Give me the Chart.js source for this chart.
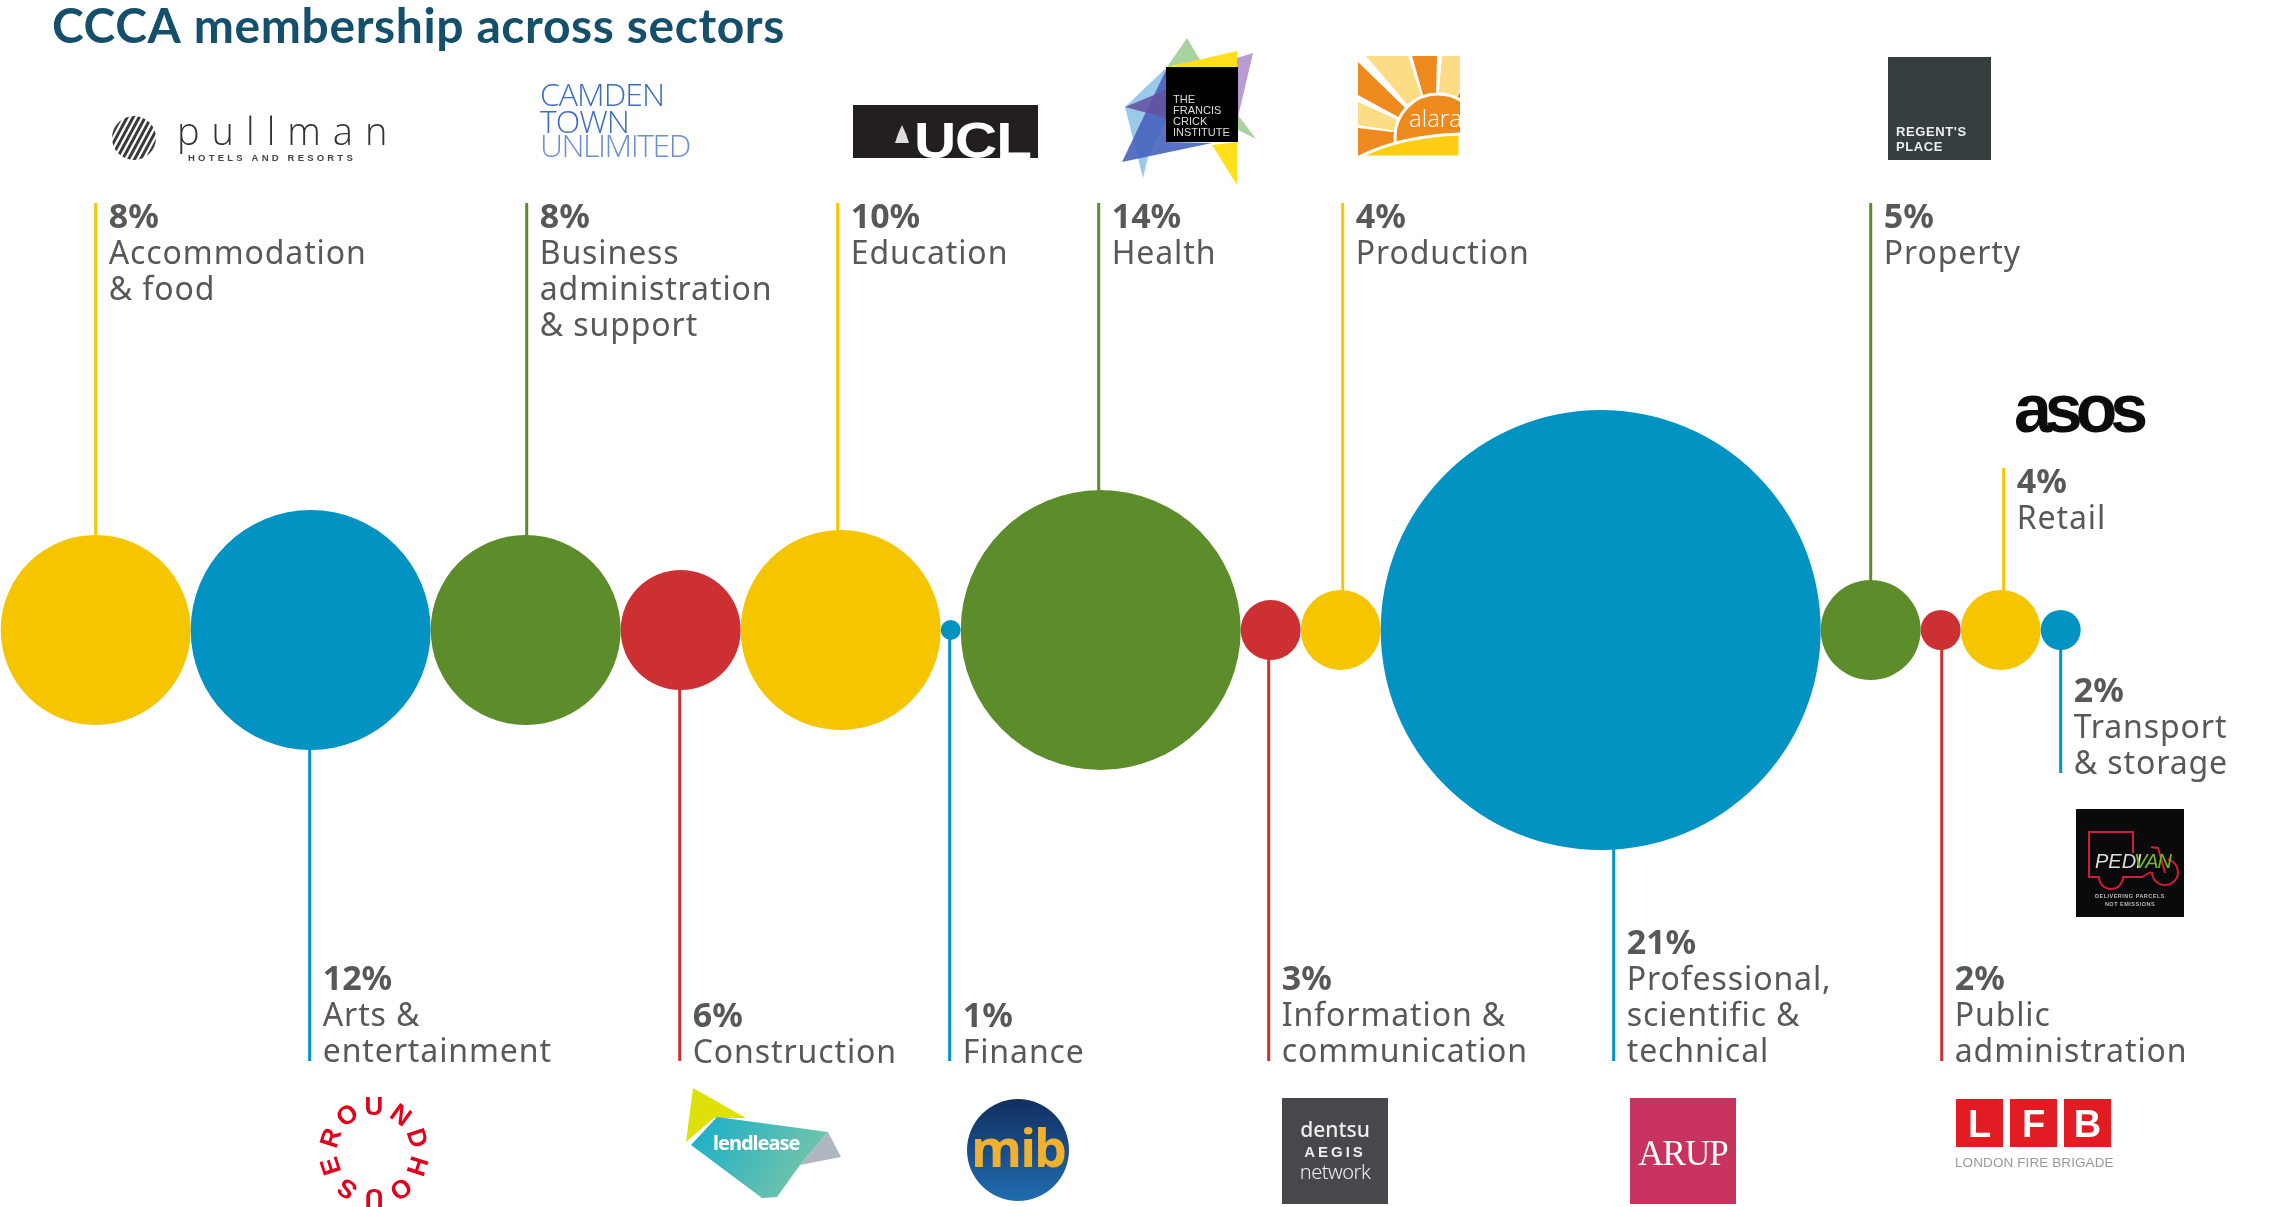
<!DOCTYPE html>
<html>
<head>
<meta charset="utf-8">
<title>CCCA membership across sectors</title>
<script src="https://cdn.jsdelivr.net/npm/chart.js@4"></script>
<style>
    html, body { margin: 0; padding: 0; background: #fff; }
    canvas { display: block; }
</style>
</head>
<body>
<canvas id="sectorChart" width="2277" height="1207"></canvas>
<script>
// ===================================
// DATA
// ===================================
const chartTitle = 'CCCA membership across sectors';
const sectors = [
    ['Accommodation', '& food'],
    ['Arts &', 'entertainment'],
    ['Business', 'administration', '& support'],
    ['Construction'],
    ['Education'],
    ['Finance'],
    ['Health'],
    ['Information &', 'communication'],
    ['Production'],
    ['Professional,', 'scientific &', 'technical'],
    ['Property'],
    ['Public', 'administration'],
    ['Retail'],
    ['Transport', '& storage']
];
const shareLabels = [8, 12, 8, 6, 10, 1, 14, 3, 4, 21, 5, 2, 4, 2];
// bubble sizes as drawn, the picture does not scale them exactly by share
const bubbleSizes = [9.5, 12, 9.5, 6, 10, 1, 14, 3, 4, 22, 5, 2, 4, 2];

// ===================================
// LAYOUT
// ===================================
const YELLOW = '#f5c500', BLUE = '#0293c3', GREEN = '#5d8c2a', RED = '#cd3033';
const bubbleColors = [YELLOW, BLUE, GREEN, RED, YELLOW, BLUE, GREEN, RED, YELLOW, BLUE, GREEN, RED, YELLOW, BLUE];
const pxPerSize = 10;
const centreY = 630;
// where each leader line ends, in px above (+) or below (-) the bubble row
const leaderEnds = [427, -431, 427, -431, 427, -431, 427, -431, 427, -431, 427, -431, 162, -143];
const leaderShift = [0, -1, 1, -1, -3, -1, -2, -2, 2, 13, 0, 1, 3, 0];
const labelGap = 13;
const textColor = '#58585a';
const bodyFont = '"Noto Sans", sans-serif';

// the bubbles touch, so each centre follows from the sizes before it
let runningX = 0.7;
const bubblePoints = bubbleSizes.map(function (size) {
    const r = size * pxPerSize;
    const point = { x: runningX + r, y: 0, r: r };
    runningX += 2 * r;
    return point;
});

// one small line dataset per leader, hidden behind its bubble where it starts
const leaderDatasets = bubblePoints.map(function (point, i) {
    const x = point.x + leaderShift[i];
    return {
        type: 'line',
        data: [{ x: x, y: 0 }, { x: x, y: leaderEnds[i] }],
        borderColor: bubbleColors[i],
        borderWidth: 3,
        pointRadius: 0,
        borderCapStyle: 'butt'
    };
});

// ===================================
// TEXT AND LOGOS
// ===================================
function text(ctx, str, x, y, font, color, spacing, align) {
    ctx.font = font;
    ctx.fillStyle = color;
    ctx.letterSpacing = (spacing || 0) + 'px';
    ctx.textAlign = align || 'left';
    ctx.textBaseline = 'alphabetic';
    ctx.fillText(str, x, y);
    ctx.letterSpacing = '0px';
}

function poly(ctx, color, pts) {
    ctx.fillStyle = color;
    ctx.beginPath();
    pts.forEach(function (p, i) {
        if (i === 0) ctx.moveTo(p[0], p[1]); else ctx.lineTo(p[0], p[1]);
    });
    ctx.closePath();
    ctx.fill();
}

function box(ctx, color, x0, y0, x1, y1) {
    ctx.fillStyle = color;
    ctx.fillRect(x0, y0, x1 - x0, y1 - y0);
}

function drawPullman(ctx) {
    ctx.save();
    ctx.beginPath();
    ctx.arc(134, 138, 22, 0, Math.PI * 2);
    ctx.clip();
    ctx.strokeStyle = '#3a3a3a';
    ctx.lineWidth = 3;
    for (let k = -30; k < 30; k += 6) {
        ctx.beginPath();
        ctx.moveTo(134 + k - 14, 164);
        ctx.lineTo(134 + k + 14, 112);
        ctx.stroke();
    }
    ctx.restore();
    text(ctx, 'pullman', 177, 145, '300 38px "Open Sans", sans-serif', '#333', 12);
    text(ctx, 'HOTELS AND RESORTS', 188, 161, '700 9.5px "Liberation Sans", sans-serif', '#444', 3.2);
}

function drawCamden(ctx) {
    const font = '300 32px "Open Sans", sans-serif';
    text(ctx, 'CAMDEN', 540, 106, font, '#3f6cc2', -1);
    text(ctx, 'TOWN', 540, 133, font, '#3f6cc2', -1);
    text(ctx, 'UNLIMITED', 540, 157, font, '#6d90d0', -1.5);
}

function drawUcl(ctx) {
    box(ctx, '#231f20', 853, 105, 1038, 158);
    poly(ctx, '#ddd', [[902, 125], [906, 134], [909, 143], [895, 143], [898, 134]]);
    ctx.save();
    ctx.translate(914, 158);
    ctx.scale(1.17, 1);
    text(ctx, 'UCL', 0, 0, '700 50px "Liberation Sans", sans-serif', '#fff', -1);
    ctx.restore();
}

function drawCrick(ctx) {
    poly(ctx, 'rgba(143,196,232,0.9)', [[1125, 107], [1166, 68], [1166, 120], [1148, 157], [1143, 178]]);
    poly(ctx, '#a9d2a0', [[1167, 67], [1187, 38], [1200, 60]]);
    poly(ctx, '#b89bd0', [[1237, 58], [1253, 53], [1238, 117]]);
    poly(ctx, '#a9d2a0', [[1238, 115], [1256, 139], [1238, 130]]);
    poly(ctx, '#ffe01b', [[1167, 67], [1237, 51], [1237, 67]]);
    poly(ctx, '#ffe01b', [[1212, 145], [1237, 142], [1237, 185]]);
    poly(ctx, 'rgba(70,100,190,0.9)', [[1122, 162], [1166, 70], [1166, 142], [1212, 143]]);
    poly(ctx, 'rgba(100,80,160,0.85)', [[1125, 107], [1166, 90], [1166, 118]]);
    box(ctx, '#000', 1166, 67, 1238, 142);
    const font = '500 11px "Liberation Sans", sans-serif';
    ['THE', 'FRANCIS', 'CRICK', 'INSTITUTE'].forEach(function (line, i) {
        text(ctx, line, 1173, 103 + i * 11, font, '#ddd');
    });
}

function drawAlara(ctx) {
    const c = [1435, 137];
    ctx.save();
    ctx.beginPath();
    ctx.rect(1358, 56, 102, 101);
    ctx.clip();
    box(ctx, '#fff', 1358, 56, 1460, 157);
    poly(ctx, '#ee8a1d', [c, [1358, 157], [1358, 128]]);
    poly(ctx, '#fddc86', [c, [1358, 125], [1358, 102]]);
    poly(ctx, '#ee8a1d', [c, [1358, 95], [1358, 62]]);
    poly(ctx, '#fddc86', [c, [1366, 56], [1408, 56]]);
    poly(ctx, '#ee8a1d', [c, [1412, 56], [1437, 56]]);
    poly(ctx, '#fddc86', [c, [1442, 56], [1460, 56], [1460, 90]]);
    poly(ctx, '#ee8a1d', [c, [1460, 92], [1460, 115]]);
    ctx.beginPath();
    ctx.arc(1438, 137, 43, 0, Math.PI * 2);
    ctx.fillStyle = '#ee8a1d';
    ctx.strokeStyle = '#fff';
    ctx.lineWidth = 3;
    ctx.fill();
    ctx.stroke();
    ctx.beginPath();
    ctx.moveTo(1359, 157);
    ctx.quadraticCurveTo(1400, 136, 1460, 134);
    ctx.lineTo(1460, 157);
    ctx.closePath();
    ctx.fillStyle = '#ffce12';
    ctx.fill();
    ctx.stroke();
    ctx.restore();
    text(ctx, 'alara', 1409, 127, '300 24px "Open Sans", sans-serif', '#fff');
}

function drawRegents(ctx) {
    box(ctx, '#353f40', 1888, 57, 1991, 160);
    const font = '700 13px "Liberation Sans", sans-serif';
    text(ctx, "REGENT'S", 1896, 136, font, '#eee', 0.6);
    text(ctx, 'PLACE', 1896, 151, font, '#eee', 0.6);
}

function drawAsos(ctx) {
    text(ctx, 'asos', 2014, 432, '700 68px "Liberation Sans", sans-serif', '#0c0c0c', -7);
}

function drawPedivan(ctx) {
    box(ctx, '#0a0a0c', 2076, 809, 2184, 917);
    ctx.strokeStyle = '#d01c3c';
    ctx.lineWidth = 2;
    ctx.beginPath();
    ctx.moveTo(2133, 853);
    ctx.lineTo(2133, 832);
    ctx.lineTo(2089, 832);
    ctx.lineTo(2089, 877);
    ctx.lineTo(2099, 877);
    ctx.arc(2111, 877, 12, Math.PI, 0, true);
    ctx.lineTo(2142, 877);
    ctx.lineTo(2151, 872);
    ctx.moveTo(2151, 847);
    ctx.lineTo(2158, 848);
    ctx.lineTo(2165, 873);
    ctx.moveTo(2178, 872);
    ctx.arc(2165, 872, 13, 0, Math.PI);
    ctx.moveTo(2168, 860);
    ctx.arc(2165, 872, 13, -1.3, 0);
    ctx.stroke();
    const font = 'italic 400 20px "Liberation Sans", sans-serif';
    text(ctx, 'PEDI', 2095, 868, font, '#ddd');
    text(ctx, 'VAN', 2134, 868, font, '#7ab51d', -1);
    const small = '700 5.5px "Liberation Sans", sans-serif';
    text(ctx, 'DELIVERING PARCELS', 2130, 898, small, '#bbb', 0.5, 'center');
    text(ctx, 'NOT EMISSIONS', 2130, 906, small, '#bbb', 0.5, 'center');
}

function drawLfb(ctx) {
    const font = '700 38px "Liberation Sans", sans-serif';
    [['L', 1956], ['F', 2010], ['B', 2064]].forEach(function (cell) {
        box(ctx, '#e31b23', cell[1], 1099, cell[1] + 47, 1147);
        text(ctx, cell[0], cell[1] + 23.5, 1137, font, '#fff', 0, 'center');
    });
    text(ctx, 'LONDON FIRE BRIGADE', 1955, 1167, '400 13.5px "Liberation Sans", sans-serif', '#999', 0.1);
}

function drawArup(ctx) {
    box(ctx, '#c9335f', 1630, 1098, 1736, 1204);
    text(ctx, 'ARUP', 1683, 1165, '400 35px "Liberation Serif", serif', '#fff', -1, 'center');
}

function drawDentsu(ctx) {
    box(ctx, '#48484c', 1282, 1098, 1388, 1204);
    const font = '500 21px "Noto Sans", sans-serif';
    text(ctx, 'dentsu', 1335, 1137, font, '#eee', 0, 'center');
    text(ctx, 'AEGIS', 1335, 1157, '700 15px "Liberation Sans", sans-serif', '#eee', 3, 'center');
    text(ctx, 'network', 1335, 1179, '300 20px "Noto Sans", sans-serif', '#eee', -0.5, 'center');
}

function drawMib(ctx) {
    const grad = ctx.createLinearGradient(0, 1098, 0, 1202);
    grad.addColorStop(0, '#132e5f');
    grad.addColorStop(1, '#1f6db0');
    ctx.fillStyle = grad;
    ctx.beginPath();
    ctx.arc(1018, 1150, 51, 0, Math.PI * 2);
    ctx.fill();
    text(ctx, 'mib', 1018, 1167, '700 52px "Open Sans", sans-serif', '#f0b030', -2, 'center');
}

function drawLendlease(ctx) {
    poly(ctx, '#dfe00a', [[693, 1088], [746, 1118], [714, 1118], [686, 1142]]);
    poly(ctx, '#b0b6c0', [[828, 1132], [841, 1157], [800, 1165]]);
    const grad = ctx.createLinearGradient(700, 1120, 810, 1190);
    grad.addColorStop(0, '#1bb0c8');
    grad.addColorStop(1, '#7ac5a8');
    poly(ctx, grad, [[717, 1117], [828, 1132], [800, 1165], [777, 1197], [762, 1198], [691, 1145]]);
    text(ctx, 'lendlease', 713, 1150, '700 20px "Noto Sans", sans-serif', '#fff', -1);
}

function drawRoundhouse(ctx) {
    const letters = ['U', 'N', 'D', 'H', 'O', 'U', 'S', 'E', 'R', 'O'];
    letters.forEach(function (letter, i) {
        const a = i * Math.PI / 5;
        ctx.save();
        ctx.translate(374 + 46 * Math.sin(a), 1152 - 46 * Math.cos(a));
        ctx.rotate(a);
        text(ctx, letter, 0, 9, '700 26px "Liberation Sans", sans-serif', '#e2001a', 0, 'center');
        ctx.restore();
    });
}

const labelPlugin = {
    id: 'labelPlugin',
    afterDraw: function (chart) {
        const ctx = chart.ctx;
        const x = chart.scales.x;
        const y = chart.scales.y;
        ctx.save();
        text(ctx, chartTitle, 52, 43, '700 48px Lato, sans-serif', '#14506b', 0.6);
        sectors.forEach(function (lines, i) {
            const left = x.getPixelForValue(bubblePoints[i].x + leaderShift[i]) + labelGap;
            const end = y.getPixelForValue(leaderEnds[i]);
            // labels above hang from the line end, labels below sit on it
            const first = leaderEnds[i] > 0 ? end + 25 : end - lines.length * 36 + 1 + (lines.length === 1 ? 1 : 0);
            text(ctx, shareLabels[i] + '%', left, first, '700 34px ' + bodyFont, textColor, 0);
            lines.forEach(function (line, k) {
                text(ctx, line, left, first + (k + 1) * 36, '400 32px ' + bodyFont, textColor, 0.9);
            });
        });
        [drawPullman, drawCamden, drawUcl, drawCrick, drawAlara, drawRegents, drawAsos, drawPedivan,
            drawLfb, drawArup, drawDentsu, drawMib, drawLendlease, drawRoundhouse].forEach(function (logo) {
            logo(ctx);
        });
        ctx.restore();
    }
};

// ===================================
// CHART
// ===================================
const sectorConfig = {
    type: 'bubble',
    data: {
        datasets: [{
            data: bubblePoints,
            backgroundColor: bubbleColors,
            borderWidth: 0,
            hoverBorderWidth: 0
        }].concat(leaderDatasets)
    },
    options: {
        responsive: false,
        animation: false,
        events: [],
        layout: { padding: 0, autoPadding: false },
        plugins: {
            legend: { display: false },
            title: { display: false },
            tooltip: { enabled: false }
        },
        scales: {
            x: { type: 'linear', display: false, min: 0, max: 2277 },
            y: { type: 'linear', display: false, min: centreY - 1207, max: centreY }
        }
    },
    plugins: [labelPlugin]
};

const ctxSector = document.getElementById('sectorChart').getContext('2d');
new Chart(ctxSector, sectorConfig);
</script>
</body>
</html>
